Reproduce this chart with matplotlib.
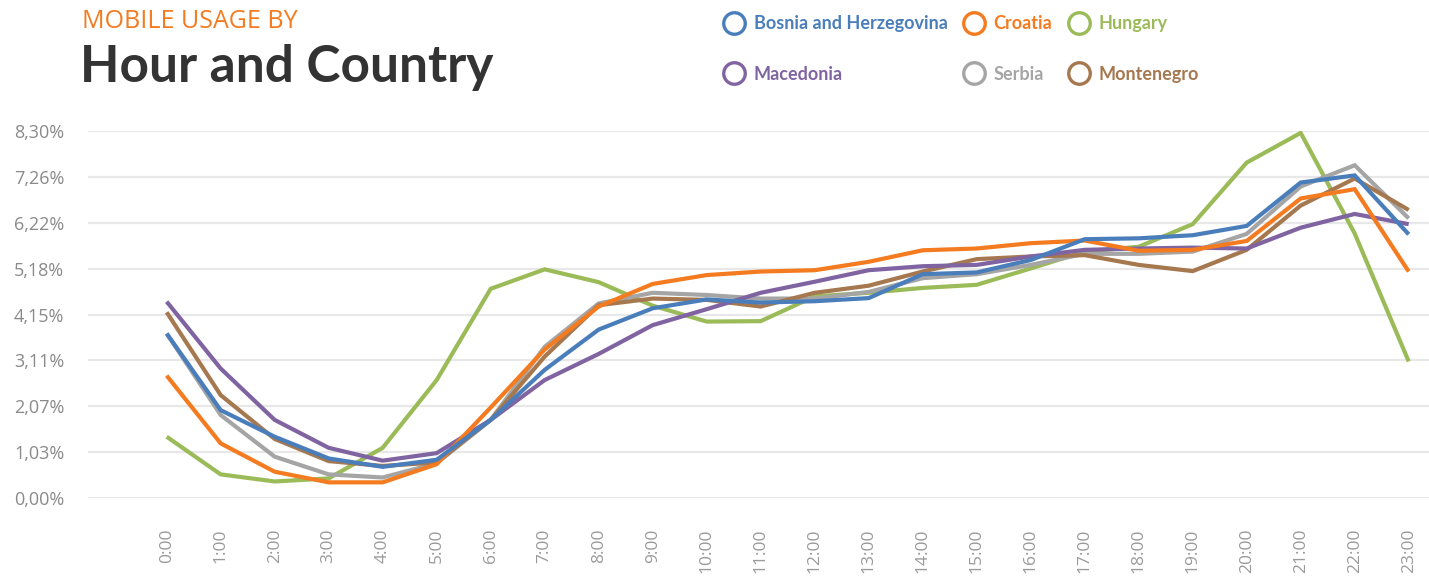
import matplotlib
matplotlib.use('Agg')
import matplotlib.pyplot as plt
from matplotlib.lines import Line2D

# Data
hours = ['%d:00' % h for h in range(24)]
y_ticks = [0.0, 1.0375, 2.075, 3.1125, 4.15, 5.1875, 6.225, 7.2625, 8.30]
y_tick_labels = ['0,00%', '1,03%', '2,07%', '3,11%', '4,15%', '5,18%', '6,22%', '7,26%', '8,30%']

bosnia = [3.72, 1.99, 1.39, 0.90, 0.71, 0.87, 1.77, 2.90, 3.81, 4.29, 4.49, 4.42,
          4.45, 4.52, 5.06, 5.10, 5.38, 5.85, 5.87, 5.94, 6.15, 7.13, 7.29, 5.96]
croatia = [2.77, 1.24, 0.60, 0.36, 0.36, 0.77, 2.05, 3.36, 4.33, 4.84, 5.04, 5.12,
           5.15, 5.34, 5.60, 5.64, 5.76, 5.82, 5.59, 5.61, 5.81, 6.77, 6.98, 5.12]
hungary = [1.39, 0.54, 0.38, 0.45, 1.14, 2.67, 4.73, 5.17, 4.88, 4.35, 3.99, 4.00,
           4.56, 4.64, 4.75, 4.82, 5.19, 5.57, 5.68, 6.19, 7.58, 8.25, 5.98, 3.09]
macedonia = [4.44, 2.93, 1.77, 1.14, 0.85, 1.02, 1.77, 2.67, 3.26, 3.91, 4.27, 4.64,
             4.89, 5.15, 5.24, 5.27, 5.46, 5.61, 5.64, 5.66, 5.64, 6.11, 6.42, 6.19]
serbia = [3.72, 1.88, 0.94, 0.54, 0.47, 0.79, 1.77, 3.42, 4.40, 4.64, 4.59, 4.51,
          4.51, 4.66, 4.97, 5.06, 5.27, 5.52, 5.52, 5.57, 5.97, 7.04, 7.52, 6.32]
montenegro = [4.20, 2.33, 1.34, 0.84, 0.73, 0.81, 1.77, 3.20, 4.36, 4.51, 4.48, 4.33,
              4.64, 4.80, 5.12, 5.40, 5.46, 5.49, 5.27, 5.13, 5.61, 6.61, 7.22, 6.51]

names = ['Bosnia and Herzegovina', 'Croatia', 'Hungary', 'Macedonia', 'Serbia', 'Montenegro']
series = [bosnia, croatia, hungary, macedonia, serbia, montenegro]
colors = ['#4a7ebb', '#f47b20', '#9bbb59', '#8064a2', '#a5a5a5', '#a6784f']
draw_order = [2, 4, 5, 3, 1, 0]  # which lines sit on top

# Figure
figure = plt.figure(figsize=(14.29, 5.78), dpi=100, facecolor='white')
axes0 = figure.add_axes([88 / 1429, 1 - 498.3 / 578, 1 - 88 / 1429, (498.3 - 130.7) / 578])

x = list(range(len(hours)))
for z, i in enumerate(draw_order):
    axes0.plot(x, series[i], color=colors[i], linewidth=3.0, solid_joinstyle='miter',
               solid_capstyle='butt', zorder=3 + z)

# y-axis settings
axes0.set_ylim(0, 8.30)
axes0.set_yticks(y_ticks)
axes0.set_yticklabels(y_tick_labels, fontsize=13, color='#8a8a8a', family='Open Sans')
axes0.yaxis.grid(True, color='#e8e8e8', linewidth=1.6, zorder=0)
axes0.tick_params(axis='y', length=0, pad=17)

# x-axis settings
axes0.set_xlim(-1.457, 23.376)
axes0.set_xticks(x)
axes0.set_xticklabels(hours, rotation=90, fontsize=12.5, color='#9a9a9a', family='Open Sans')
axes0.tick_params(axis='x', length=0, pad=22)

for s in axes0.spines.values():
    s.set_visible(False)
axes0.set_axisbelow(True)

# Titles
figure.text(82 / 1429, 1 - 28 / 578, 'MOBILE USAGE BY', fontsize=18, color='#f47b20',
            family='Open Sans', va='baseline', ha='left')
figure.text(80 / 1429, 1 - 82 / 578, 'Hour and Country', fontsize=37, color='#333333',
            family='Lato', fontweight='bold', va='baseline', ha='left')

# Legend (row-major in the picture -> reorder for column-major fill)
order = [0, 3, 1, 4, 2, 5]
handles = [Line2D([], [], marker='o', linestyle='none', markersize=15.5, markerfacecolor='white',
                  markeredgecolor=colors[i], markeredgewidth=2.4) for i in order]
leg = figure.legend(handles, [names[i] for i in order], ncol=3, loc='upper left',
                    bbox_to_anchor=(723 / 1429, 1 - 15 / 578), frameon=False,
                    prop={'family': 'Lato', 'weight': 'bold', 'size': 13},
                    handlelength=1.2, handletextpad=0.5, columnspacing=0.85,
                    labelspacing=1.86, borderaxespad=0, borderpad=0)
for t, i in zip(leg.get_texts(), order):
    t.set_color(colors[i])

figure.savefig('out.png', dpi=100, facecolor='white')
